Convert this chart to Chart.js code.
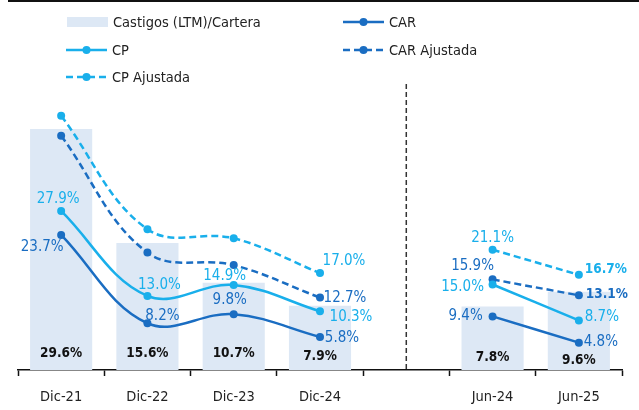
<!DOCTYPE html>
<html>
<head>
<meta charset="utf-8">
<script src="https://cdn.jsdelivr.net/npm/chart.js@4/dist/chart.umd.min.js"></script>
<style>
  html, body { margin: 0; padding: 0; background: #fff; }
</style>
</head>
<body>
<canvas id="chartCastigos" width="639" height="410"></canvas>
<script>
// Datos (el hueco separa los cierres anuales de los semestres)
const categorias = ['Dic-21', 'Dic-22', 'Dic-23', 'Dic-24', '', 'Jun-24', 'Jun-25'];
const castigos   = [29.6, 15.6, 10.7, 7.9, null, 7.8, 9.6];
const car        = [23.7, 8.2, 9.8, 5.8, null, 9.4, 4.8];
const cp         = [27.9, 13.0, 14.9, 10.3, null, 15.0, 8.7];
const carAjust   = [41.1, 20.6, 18.4, 12.7, null, 15.9, 13.1];
const cpAjust    = [44.6, 24.7, 23.1, 17.0, null, 21.1, 16.7];

const AZUL = '#1A6DC2';
const CELESTE = '#19AFEB';
const BARRA = '#DDE8F5';
const FUENTE = "'Liberation Sans Narrow', 'DejaVu Sans Condensed', 'Arial Narrow', sans-serif";

// posicion de cada etiqueta respecto a su punto: [dx, dy], null = sin etiqueta
const etiquetas = {
  'Castigos (LTM)/Cartera': { color: '#111', bold: [1, 1, 1, 1, 1, 1, 1],
    pos: [[0, -17], [0, -17], [0, -17], [0, -14], null, [0, -13], [0, -10]] },
  'CAR': { color: AZUL, bold: [],
    pos: [[-19, 12], [15, -7], [-4, -14], [22, 1], null, [-27, 0], [22, -1]] },
  'CP': { color: CELESTE, bold: [],
    pos: [[-3, -12], [12, -11], [-9, -9], [31, 6], null, [-30, 3], [23, -3]] },
  'CAR Ajustada': { color: AZUL, bold: [0, 0, 0, 0, 0, 0, 1],
    pos: [null, null, null, [25, 0], null, [-20, -13], [28, -1]] },
  'CP Ajustada': { color: CELESTE, bold: [0, 0, 0, 0, 0, 0, 1],
    pos: [null, null, null, [24, -12], null, [0, -12], [27, -5]] }
};

const pluginEtiquetas = {
  id: 'etiquetas',
  afterDatasetsDraw(chart) {
    const ctx = chart.ctx;
    ctx.save();
    ctx.textAlign = 'center';
    ctx.textBaseline = 'middle';
    chart.data.datasets.forEach((ds, di) => {
      const conf = etiquetas[ds.label];
      const meta = chart.getDatasetMeta(di);
      meta.data.forEach((el, i) => {
        const v = ds.data[i];
        const p = conf.pos[i];
        if (v == null || !p) return;
        const esBarra = ds.type === 'bar';
        const y = esBarra ? chart.chartArea.bottom + p[1] : el.y + p[1];
        ctx.font = conf.bold[i] ? 'bold 13.5px ' + FUENTE : '15px ' + FUENTE;
        ctx.fillStyle = conf.color;
        ctx.fillText(v.toFixed(1) + '%', el.x + p[0], y);
      });
    });
    // linea vertical discontinua en el hueco
    const xs = chart.scales.x.getPixelForValue(4);
    ctx.strokeStyle = '#333';
    ctx.lineWidth = 1.5;
    ctx.setLineDash([5, 3]);
    ctx.beginPath();
    ctx.moveTo(xs, 84);
    ctx.lineTo(xs, chart.chartArea.bottom);
    ctx.stroke();
    ctx.restore();
  }
};

const pluginLeyenda = {
  id: 'leyenda',
  afterDraw(chart) {
    const ctx = chart.ctx;
    const ds = chart.data.datasets;
    const items = [
      { d: ds[0], x: 67, y: 22 },
      { d: ds[1], x: 343, y: 22 },
      { d: ds[2], x: 66, y: 50 },
      { d: ds[3], x: 343, y: 50 },
      { d: ds[4], x: 66, y: 77 }
    ];
    ctx.save();
    // borde superior
    ctx.fillStyle = '#111';
    ctx.fillRect(8, 0, 631, 2);
    items.forEach(it => {
      const d = it.d;
      if (d.type === 'bar') {
        ctx.fillStyle = d.backgroundColor;
        ctx.fillRect(it.x, it.y - 5, 41, 10);
      } else {
        ctx.strokeStyle = d.borderColor;
        ctx.lineWidth = 2.5;
        ctx.setLineDash(d.borderDash || []);
        ctx.beginPath();
        ctx.moveTo(it.x, it.y);
        ctx.lineTo(it.x + 41, it.y);
        ctx.stroke();
        ctx.setLineDash([]);
        ctx.fillStyle = d.borderColor;
        ctx.beginPath();
        ctx.arc(it.x + 20.5, it.y, 4, 0, Math.PI * 2);
        ctx.fill();
      }
      ctx.fillStyle = '#222';
      ctx.font = '14.5px ' + FUENTE;
      ctx.textAlign = 'left';
      ctx.textBaseline = 'middle';
      ctx.fillText(d.label, it.x + 46, it.y + 1);
    });
    ctx.restore();
  }
};

function serieLinea(label, data, color, dash) {
  return {
    type: 'line',
    label: label,
    data: data,
    yAxisID: 'y1',
    borderColor: color,
    backgroundColor: color,
    borderWidth: 2.5,
    borderDash: dash,
    pointRadius: 4,
    pointBorderWidth: 0,
    pointBackgroundColor: color,
    tension: 0.38,
    spanGaps: false,
    order: 1
  };
}

const ctx = document.getElementById('chartCastigos').getContext('2d');
new Chart(ctx, {
  type: 'bar',
  data: {
    labels: categorias,
    datasets: [
      {
        type: 'bar',
        label: 'Castigos (LTM)/Cartera',
        data: castigos,
        yAxisID: 'y',
        backgroundColor: BARRA,
        categoryPercentage: 1,
        barPercentage: 0.72,
        order: 10
      },
      serieLinea('CAR', car, AZUL, []),
      serieLinea('CP', cp, CELESTE, []),
      serieLinea('CAR Ajustada', carAjust, AZUL, [7, 4]),
      serieLinea('CP Ajustada', cpAjust, CELESTE, [7, 4])
    ]
  },
  options: {
    responsive: false,
    animation: false,
    devicePixelRatio: 1,
    layout: { padding: { left: 18, right: 17, top: 85, bottom: 0 } },
    plugins: {
      legend: { display: false },
      tooltip: { enabled: false }
    },
    scales: {
      x: {
        offset: true,
        afterFit: (s) => { s.height = 40; },
        grid: {
          offset: true,
          drawOnChartArea: false,
          drawTicks: true,
          tickLength: 6,
          tickColor: '#111',
          tickWidth: 1.5
        },
        border: { display: true, color: '#111', width: 1.5 },
        ticks: {
          color: '#222',
          padding: 13,
          font: { family: FUENTE, size: 14.5 },
          maxRotation: 0,
          autoSkip: false
        }
      },
      y: { display: false, min: 0, max: 35 },
      y1: { display: false, min: 0, max: 50, position: 'right' }
    }
  },
  plugins: [pluginEtiquetas, pluginLeyenda]
});
</script>
</body>
</html>
